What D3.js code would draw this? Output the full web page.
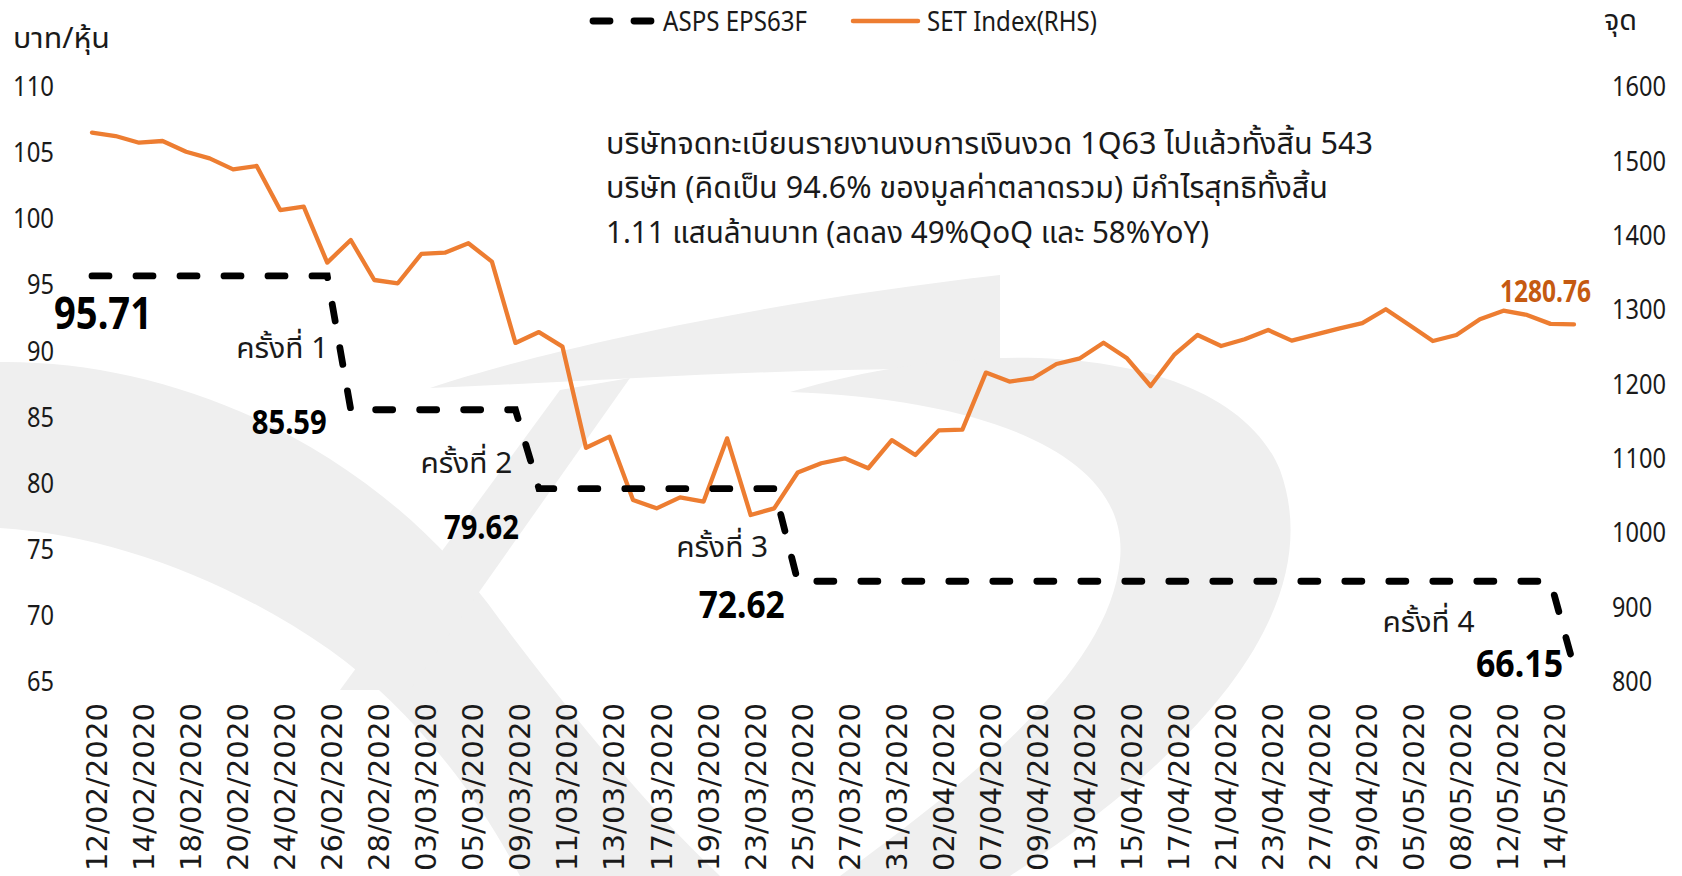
<!DOCTYPE html>
<html>
<head>
<meta charset="utf-8">
<script src="https://cdn.jsdelivr.net/npm/d3@7"></script>
<style>
  html, body { margin: 0; padding: 0; background: #ffffff; }
  svg { display: block; }
</style>
</head>
<body>
<svg id="chart" width="1682" height="876"></svg>
<script>
// ---------------- DATA ----------------
const dates = [
  "12/02/2020","13/02/2020","14/02/2020","17/02/2020","18/02/2020","19/02/2020","20/02/2020","21/02/2020",
  "24/02/2020","25/02/2020","26/02/2020","27/02/2020","28/02/2020",
  "02/03/2020","03/03/2020","04/03/2020","05/03/2020","06/03/2020","09/03/2020","10/03/2020","11/03/2020",
  "12/03/2020","13/03/2020","16/03/2020","17/03/2020","18/03/2020","19/03/2020","20/03/2020","23/03/2020",
  "24/03/2020","25/03/2020","26/03/2020","27/03/2020","30/03/2020","31/03/2020",
  "01/04/2020","02/04/2020","03/04/2020","07/04/2020","08/04/2020","09/04/2020","10/04/2020","13/04/2020",
  "14/04/2020","15/04/2020","16/04/2020","17/04/2020","20/04/2020","21/04/2020","22/04/2020","23/04/2020",
  "24/04/2020","27/04/2020","28/04/2020","29/04/2020","30/04/2020",
  "05/05/2020","07/05/2020","08/05/2020","11/05/2020","12/05/2020","13/05/2020","14/05/2020","15/05/2020"
];
const setIndex = [
  1538.6, 1534.1, 1525.1, 1527.4, 1513.0, 1504.1, 1489.3, 1493.8,
  1434.6, 1439.1, 1363.9, 1394.3, 1340.5,
  1336.1, 1375.5, 1377.2, 1389.9, 1365.2, 1255.9, 1270.5, 1250.9,
  1114.9, 1129.9, 1044.7, 1033.5, 1048.3, 1042.6, 1127.6, 1024.5,
  1033.5, 1081.7, 1094.1, 1100.8, 1087.4, 1125.2,
  1105.2, 1138.3, 1139.3, 1216.0, 1203.9, 1208.4, 1227.6, 1235.2,
  1256.2, 1235.2, 1198.0, 1239.7, 1266.6, 1251.8, 1260.8, 1273.3,
  1259.0, 1267.1, 1275.2, 1282.4, 1301.2,
  1280.0, 1258.5, 1266.6, 1287.7, 1299.3, 1293.5, 1281.5, 1280.76
];
const epsValues = [
  95.71, 95.71, 95.71, 95.71, 95.71, 95.71, 95.71, 95.71, 95.71, 95.71, 95.71,
  85.59, 85.59, 85.59, 85.59, 85.59, 85.59, 85.59, 85.59,
  79.62, 79.62, 79.62, 79.62, 79.62, 79.62, 79.62, 79.62, 79.62, 79.62, 79.62,
  72.62, 72.62, 72.62, 72.62, 72.62, 72.62, 72.62, 72.62, 72.62, 72.62, 72.62,
  72.62, 72.62, 72.62, 72.62, 72.62, 72.62, 72.62, 72.62, 72.62, 72.62, 72.62,
  72.62, 72.62, 72.62, 72.62, 72.62, 72.62, 72.62, 72.62, 72.62, 72.62, 72.62,
  66.15
];
const xTickLabels = dates.filter((d, i) => i % 2 === 0);
const leftTicks = [65, 70, 75, 80, 85, 90, 95, 100, 105, 110];
const rightTicks = [800, 900, 1000, 1100, 1200, 1300, 1400, 1500, 1600];
const epsStepLabels = ["95.71", "85.59", "79.62", "72.62", "66.15"];
const roundLabels = ["ครั้งที่ 1", "ครั้งที่ 2", "ครั้งที่ 3", "ครั้งที่ 4"];
const seriesNames = ["ASPS EPS63F", "SET Index(RHS)"];
const leftTitle = "บาท/หุ้น";
const rightTitle = "จุด";
const noteLines = [
  "บริษัทจดทะเบียนรายงานงบการเงินงวด  1Q63 ไปแล้วทั้งสิ้น 543",
  "บริษัท (คิดเป็น 94.6% ของมูลค่าตลาดรวม) มีกำไรสุทธิทั้งสิ้น",
  "1.11 แสนล้านบาท (ลดลง 49%QoQ และ 58%YoY)"
];
const lastLabel = "1280.76";

// ---------------- LAYOUT ----------------
const FONT = "\"Noto Sans\", \"Noto Sans Thai\", sans-serif";
const svg = d3.select("#chart").attr("font-family", FONT).attr("fill", "#1a1a1a");
const orange = "#ED7D31";
const plotTop = 87, plotBottom = 682;
const x = d3.scalePoint().domain(dates).range([92, 1574]);
const yL = d3.scaleLinear().domain([65, 110]).range([plotBottom, plotTop]);
const yR = d3.scaleLinear().domain([800, 1600]).range([plotBottom, plotTop]);

// faint background watermark (decorative)
const wm = svg.append("g").attr("fill", "#efefef");
wm.append("path").attr("d", "M0,362 C180,360 380,450 500,620 C560,700 640,800 720,876 L520,876 C470,780 400,700 330,650 C230,580 110,535 0,528 Z");
wm.append("path").attr("d", "M430,388 C560,345 780,300 1000,275 L1000,370 C820,365 620,380 430,388 Z");
wm.append("path").attr("d", "M340,690 L560,390 L630,378 L410,690 Z");
wm.append("path").attr("d", "M790,392 C1000,330 1230,350 1280,470 C1320,580 1250,720 1010,876 L840,876 C1000,760 1110,660 1120,560 C1130,460 1000,400 790,392 Z");

// helper to fit text width
function fit(sel, w) { return sel.attr("textLength", w).attr("lengthAdjust", "spacingAndGlyphs"); }

// axes (no lines, labels only)
const axL = svg.append("g").attr("transform", "translate(58,0)")
  .call(d3.axisLeft(yL).tickValues(leftTicks).tickSize(0).tickPadding(4));
const axR = svg.append("g").attr("transform", "translate(1608,0)")
  .call(d3.axisRight(yR).tickValues(rightTicks).tickFormat(d3.format("d")).tickSize(0).tickPadding(4));
[axL, axR].forEach(a => {
  a.select(".domain").remove();
  a.attr("font-family", FONT);
  a.selectAll("text").attr("font-size", 27).attr("fill", "#1a1a1a");
});
axL.selectAll("text").each(function(d) { fit(d3.select(this), d >= 100 ? 41 : 27); });
axR.selectAll("text").each(function(d) { fit(d3.select(this), d >= 1000 ? 54 : 40); });

const axB = svg.append("g").attr("transform", `translate(0,${plotBottom})`)
  .call(d3.axisBottom(x).tickValues(xTickLabels).tickSize(0));
axB.select(".domain").remove();
axB.attr("font-family", "\"DejaVu Sans\", Verdana, sans-serif");
axB.selectAll("text")
  .attr("font-size", 29)
  .attr("fill", "#1a1a1a")
  .attr("transform", "rotate(-90)")
  .attr("text-anchor", "end")
  .attr("x", -21)
  .attr("y", 4)
  .attr("dy", "0.36em")
  .attr("textLength", 168).attr("lengthAdjust", "spacingAndGlyphs");

// axis titles
fit(svg.append("text").attr("x", 13).attr("y", 48).attr("font-size", 29).text(leftTitle), 97);
fit(svg.append("text").attr("x", 1604).attr("y", 30).attr("font-size", 29).text(rightTitle), 33);

// SET index line
const lineR = d3.line().x((d, i) => x(dates[i])).y(d => yR(d));
svg.append("path").datum(setIndex)
  .attr("d", lineR).attr("fill", "none").attr("stroke", orange)
  .attr("stroke-width", 4.3).attr("stroke-linejoin", "round").attr("stroke-linecap", "round");

// EPS dashed line
const lineL = d3.line().x((d, i) => x(dates[i])).y(d => yL(d));
svg.append("path").datum(epsValues)
  .attr("d", lineL).attr("fill", "none").attr("stroke", "#000")
  .attr("stroke-width", 6.8).attr("stroke-dasharray", "17 27").attr("stroke-linecap", "round");

// step value labels
const stepIdx = [];
epsValues.forEach((v, i) => { if (i === 0 || v !== epsValues[i - 1]) stepIdx.push(i); });
const valOffsets = [ // [anchor, dx, dy, size, width]
  ["start", -38, 38, 44, 98],
  ["end", -24, 12, 34, 75],
  ["end", -20, 38, 34, 75],
  ["end", -13, 23, 38, 86],
  ["end", -11, -3, 38, 87]
];
epsStepLabels.forEach((t, k) => {
  const i = stepIdx[k], o = valOffsets[k];
  fit(svg.append("text")
    .attr("x", x(dates[i]) + o[1]).attr("y", yL(epsValues[i]) + o[2])
    .attr("dy", "0.35em").attr("text-anchor", o[0])
    .attr("font-size", o[3]).attr("font-weight", "bold").attr("fill", "#000")
    .text(t), o[4]);
});
const roundPos = [[1, 348], [-3, 463], [-6, 547], [-76, 622]];
roundLabels.forEach((t, k) => {
  const i = stepIdx[k + 1] - 1;
  fit(svg.append("text")
    .attr("x", x(dates[i]) + roundPos[k][0]).attr("y", roundPos[k][1])
    .attr("dy", "0.35em").attr("text-anchor", "end").attr("font-size", 29)
    .text(t), 92);
});

// last value label
fit(svg.append("text")
  .attr("x", x(dates[dates.length - 1]) + 17).attr("y", yR(setIndex[setIndex.length - 1]) - 33)
  .attr("dy", "0.35em").attr("text-anchor", "end")
  .attr("font-size", 30).attr("font-weight", "bold").attr("fill", "#C55A11")
  .text(lastLabel), 91);

// note
const noteW = [767, 722, 603];
noteLines.forEach((t, k) => {
  fit(svg.append("text").attr("x", 606).attr("y", 143 + k * 44.5).attr("dy", "0.35em")
    .attr("font-size", 30).text(t), noteW[k]);
});

// legend
const lg = svg.append("g");
lg.append("line").attr("x1", 593).attr("x2", 651).attr("y1", 21).attr("y2", 21)
  .attr("stroke", "#000").attr("stroke-width", 6.8).attr("stroke-dasharray", "17 24").attr("stroke-linecap", "round");
fit(lg.append("text").attr("x", 663).attr("y", 21).attr("dy", "0.35em").attr("font-size", 28).text(seriesNames[0]), 144);
lg.append("line").attr("x1", 853).attr("x2", 918).attr("y1", 21).attr("y2", 21)
  .attr("stroke", orange).attr("stroke-width", 4.5).attr("stroke-linecap", "round");
fit(lg.append("text").attr("x", 927).attr("y", 21).attr("dy", "0.35em").attr("font-size", 28).text(seriesNames[1]), 170);
</script>
</body>
</html>
